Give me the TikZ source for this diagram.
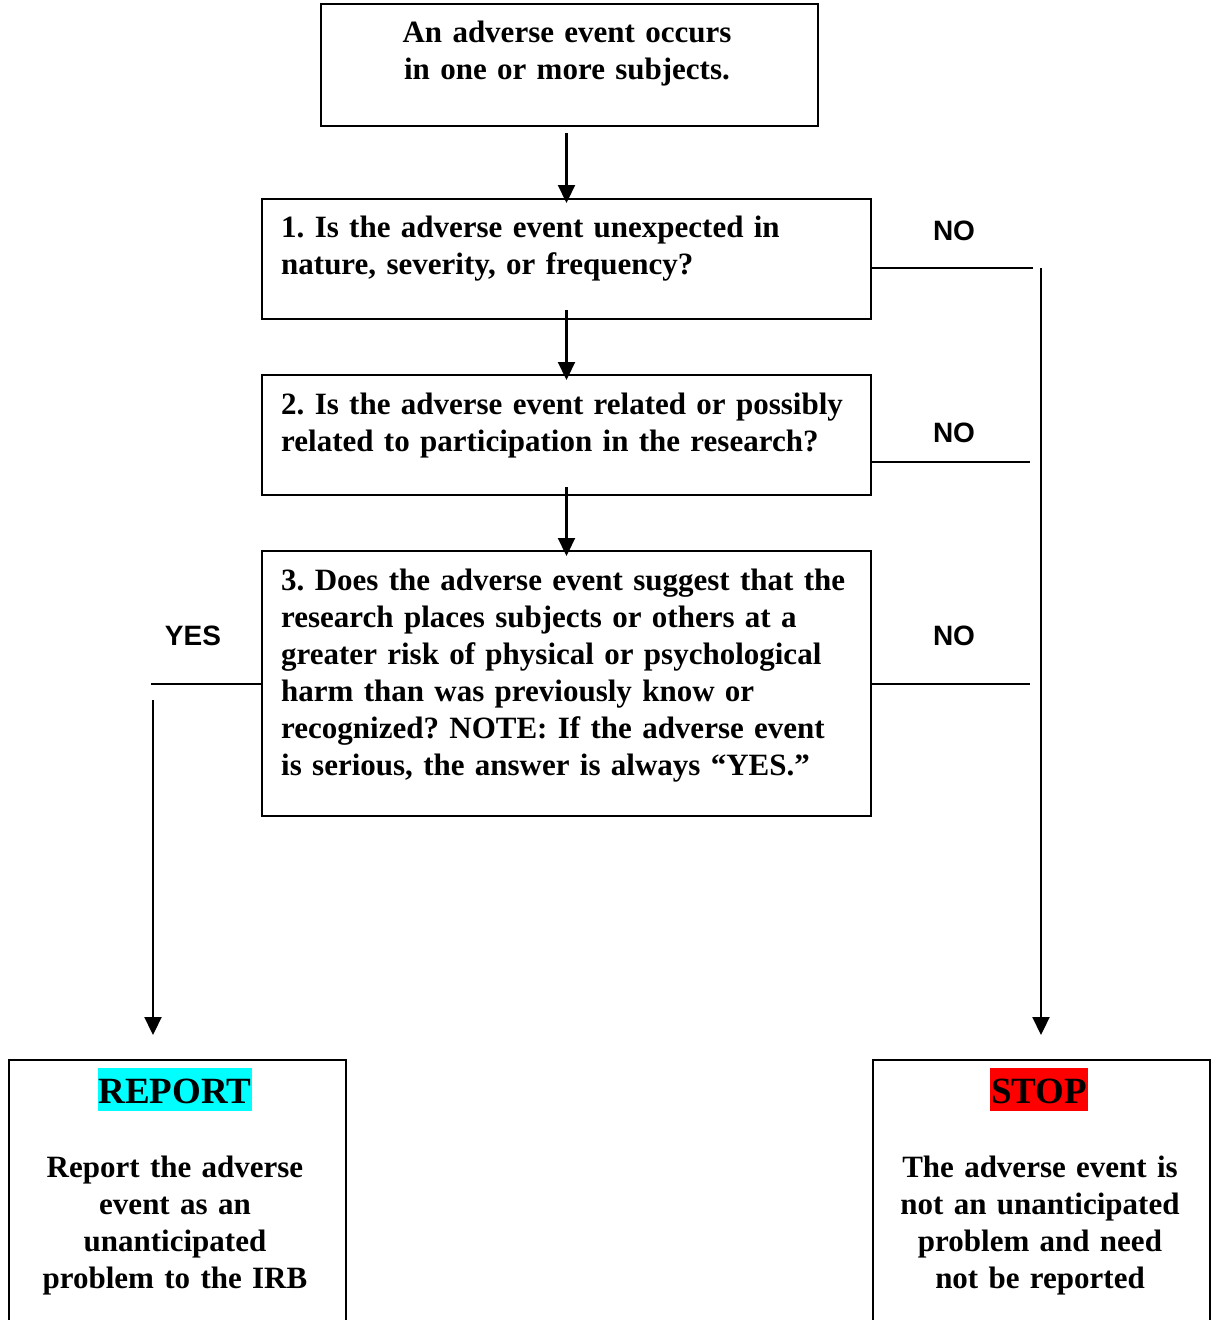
\documentclass[tikz,border=0pt]{standalone}
\usepackage{fontspec}
\setmainfont{Liberation Serif}
\newfontfamily\labelfont{Liberation Sans}
\usetikzlibrary{arrows.meta,calc}
\definecolor{hlcyan}{RGB}{0,255,255}
\definecolor{hlred}{RGB}{255,0,0}
\tikzset{
  box/.style={draw, line width=2.2pt, inner sep=0pt, outer sep=0pt, anchor=north west},
  boxtext/.style={inner sep=0pt, font=\fontsize{31pt}{37pt}\selectfont\bfseries\frenchspacing},
  lefttext/.style={boxtext, anchor=base west, text width=600pt, align=left},
  centertext/.style={boxtext, anchor=base, text width=330pt, align=center},
  answer/.style={inner sep=0pt, font=\labelfont\fontsize{28pt}{32pt}\selectfont\bfseries},
  conn/.style={line width=2.2pt},
  arr/.style={conn, -{Triangle[length=18pt,width=17pt]}},
  highlight/.style={inner xsep=1pt, inner ysep=0pt, anchor=base, text height=35pt, text depth=8pt,
    font=\fontsize{37pt}{42pt}\selectfont\bfseries}
}
\begin{document}
\begin{tikzpicture}[x=1pt,y=-1pt]
\useasboundingbox (0,0) rectangle (1215,1320);
\clip (0,0) rectangle (1215,1320);

% boxes
\node[box, minimum width=497pt, minimum height=122pt] (b0) at (321,4) {};
\node[box, minimum width=609pt, minimum height=120pt] (b1) at (262,199) {};
\node[box, minimum width=609pt, minimum height=120pt] (b2) at (262,375) {};
\node[box, minimum width=609pt, minimum height=265pt] (b3) at (262,551) {};
\node[box, minimum width=337pt, minimum height=300pt] (rep) at (9,1060) {};
\node[box, minimum width=337pt, minimum height=300pt] (stp) at (873,1060) {};

% texts
\node[centertext, text width=480pt] (t0) at (567,42) {An adverse event occurs\\in one or more subjects.};
\node[lefttext] (t1) at (281,237) {1. Is the adverse event unexpected in\\nature, severity, or frequency?};
\node[lefttext] (t2) at (281,414) {2. Is the adverse event related or possibly\\related to participation in the research?};
\node[lefttext] (t3) at (281,590) {3. Does the adverse event suggest that the\\research places subjects or others at a\\greater risk of physical or psychological\\harm than was previously know or\\recognized? NOTE: If the adverse event\\is serious, the answer is always “YES.”};

\node[highlight, fill=hlcyan] (hrep) at (175,1103) {REPORT};
\node[highlight, fill=hlred] (hstp) at (1039,1103) {STOP};
\node[centertext] (trep) at (175,1177) {Report the adverse\\event as an\\unanticipated\\problem to the IRB};
\node[centertext] (tstp) at (1040,1177) {The adverse event is\\not an unanticipated\\problem and need\\not be reported};

% answer labels
\node[answer] (no1) at (954,231) {NO};
\node[answer] (no2) at (954,433) {NO};
\node[answer] (no3) at (954,636) {NO};
\node[answer] (yes) at (193,636) {YES};

% main arrows
\draw[arr, shorten <=7pt, shorten >=-4pt] (b1.north |- b0.south) -- (b1.north);
\draw[arr, shorten <=-9pt, shorten >=-5pt] (b1.south) -- (b2.north);
\draw[arr, shorten <=-8pt, shorten >=-5pt] (b2.south) -- (b3.north);

% NO branches
\coordinate (n1) at (1033,268);
\coordinate (n2) at (1030,462);
\coordinate (n3) at (1030,684);
\coordinate (rtop) at (1041,268);
\draw[conn] (b1.east |- n1) -- (n1);
\draw[conn] (b2.east |- n2) -- (n2);
\draw[conn] (b3.east |- n3) -- (n3);
\draw[arr, shorten >=25pt] (rtop) -- (rtop |- stp.north);

% YES branch
\coordinate (y1) at (151,684);
\coordinate (ltop) at (153,700);
\draw[conn] (b3.west |- y1) -- (y1);
\draw[arr, shorten >=25pt] (ltop) -- (ltop |- rep.north);
\end{tikzpicture}
\end{document}
